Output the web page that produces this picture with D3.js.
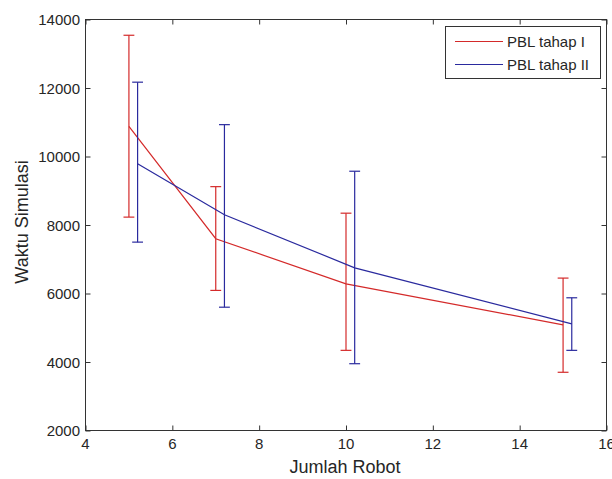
<!DOCTYPE html>
<html>
<script src='https://d3js.org/d3.v7.min.js'></script>
<style>
    body { margin: 0; background: #fff; }
    text { font-family: 'Liberation Sans', Arial, sans-serif; fill: #262626; }
</style>

<body>
    <svg width=612 height=479></svg>
    <script>
        // data
        const robots1 = [5, 7, 10, 15];
        const robots2 = [5.2, 7.2, 10.2, 15.2];
        const mean1 = [10880, 7600, 6280, 5085];
        const low1 = [8230, 6090, 4340, 3700];
        const high1 = [13540, 9120, 8345, 6450];
        const mean2 = [9790, 8300, 6750, 5115];
        const low2 = [7500, 5600, 3950, 4340];
        const high2 = [12170, 10930, 9570, 5875];
        const seriesNames = ['PBL tahap I', 'PBL tahap II'];
        const xTicks = [4, 6, 8, 10, 12, 14, 16];
        const yTicks = [2000, 4000, 6000, 8000, 10000, 12000, 14000];

        const pLeft = 85.5, pRight = 606.5, pTop = 19.5, pBottom = 430.5;
        const x = d3.scaleLinear().domain([4, 16]).range([pLeft, pRight]);
        const y = d3.scaleLinear().domain([2000, 14000]).range([pBottom, pTop]);

        const svg = d3.select('svg');
        const axisColor = '#333';

        // box + inward ticks on all four sides
        svg.append('rect')
            .attr('x', pLeft).attr('y', pTop)
            .attr('width', pRight - pLeft).attr('height', pBottom - pTop)
            .attr('fill', 'white').attr('stroke', axisColor).attr('stroke-width', 1);

        function inward(g) {
            g.select('.domain').remove();
            g.selectAll('.tick line').attr('stroke', axisColor);
        }
        svg.append('g').attr('transform', `translate(0,${pBottom})`)
            .call(d3.axisTop(x).tickValues(xTicks).tickSize(5).tickFormat(''))
            .call(inward);
        svg.append('g').attr('transform', `translate(0,${pTop})`)
            .call(d3.axisBottom(x).tickValues(xTicks).tickSize(5).tickFormat(''))
            .call(inward);
        svg.append('g').attr('transform', `translate(${pLeft},0)`)
            .call(d3.axisRight(y).tickValues(yTicks).tickSize(5).tickFormat(''))
            .call(inward);
        svg.append('g').attr('transform', `translate(${pRight},0)`)
            .call(d3.axisLeft(y).tickValues(yTicks).tickSize(5).tickFormat(''))
            .call(inward);

        // tick labels
        svg.append('g').selectAll('text').data(xTicks).enter().append('text')
            .attr('x', d => x(d)).attr('y', 449)
            .attr('text-anchor', 'middle').style('font-size', '15px')
            .text(d => d);
        svg.append('g').selectAll('text').data(yTicks).enter().append('text')
            .attr('x', 80).attr('y', d => y(d) + 5.5)
            .attr('text-anchor', 'end').style('font-size', '15px')
            .text(d => d);

        // axis titles
        svg.append('text').attr('x', 345).attr('y', 473)
            .attr('text-anchor', 'middle').style('font-size', '18px')
            .text('Jumlah Robot');
        svg.append('text')
            .attr('transform', `translate(28,${(pTop + pBottom) / 2 - 3}) rotate(-90)`)
            .attr('text-anchor', 'middle').style('font-size', '18px')
            .text('Waktu Simulasi');

        // series
        const series = [
            { xs: robots1, m: mean1, lo: low1, hi: high1, color: '#d42a2a' },
            { xs: robots2, m: mean2, lo: low2, hi: high2, color: '#2a2a9e' }
        ];
        const cap = 0.125;
        const line = d3.line().x(d => x(d[0])).y(d => y(d[1]));

        series.forEach(s => {
            const pts = s.xs.map((v, i) => [v, s.m[i], s.lo[i], s.hi[i]]);
            const g = svg.append('g').attr('stroke', s.color).attr('stroke-width', 1.2).attr('fill', 'none');
            g.selectAll('.bar').data(pts).enter().append('line')
                .attr('x1', d => x(d[0])).attr('x2', d => x(d[0]))
                .attr('y1', d => y(d[2])).attr('y2', d => y(d[3]));
            g.selectAll('.capLo').data(pts).enter().append('line')
                .attr('x1', d => x(d[0] - cap)).attr('x2', d => x(d[0] + cap))
                .attr('y1', d => y(d[2])).attr('y2', d => y(d[2]));
            g.selectAll('.capHi').data(pts).enter().append('line')
                .attr('x1', d => x(d[0] - cap)).attr('x2', d => x(d[0] + cap))
                .attr('y1', d => y(d[3])).attr('y2', d => y(d[3]));
            g.append('path').attr('d', line(pts));
        });

        // legend
        const lg = svg.append('g');
        lg.append('rect').attr('x', 445.5).attr('y', 26.5).attr('width', 155).attr('height', 52)
            .attr('fill', 'white').attr('stroke', axisColor);
        seriesNames.forEach((name, i) => {
            const ly = 41.5 + i * 23;
            lg.append('line').attr('x1', 455).attr('x2', 503).attr('y1', ly).attr('y2', ly)
                .attr('stroke', series[i].color).attr('stroke-width', 1);
            lg.append('text').attr('x', 507).attr('y', ly + 5.5).style('font-size', '15px').text(name);
        });
    </script>
</body>

</html>
